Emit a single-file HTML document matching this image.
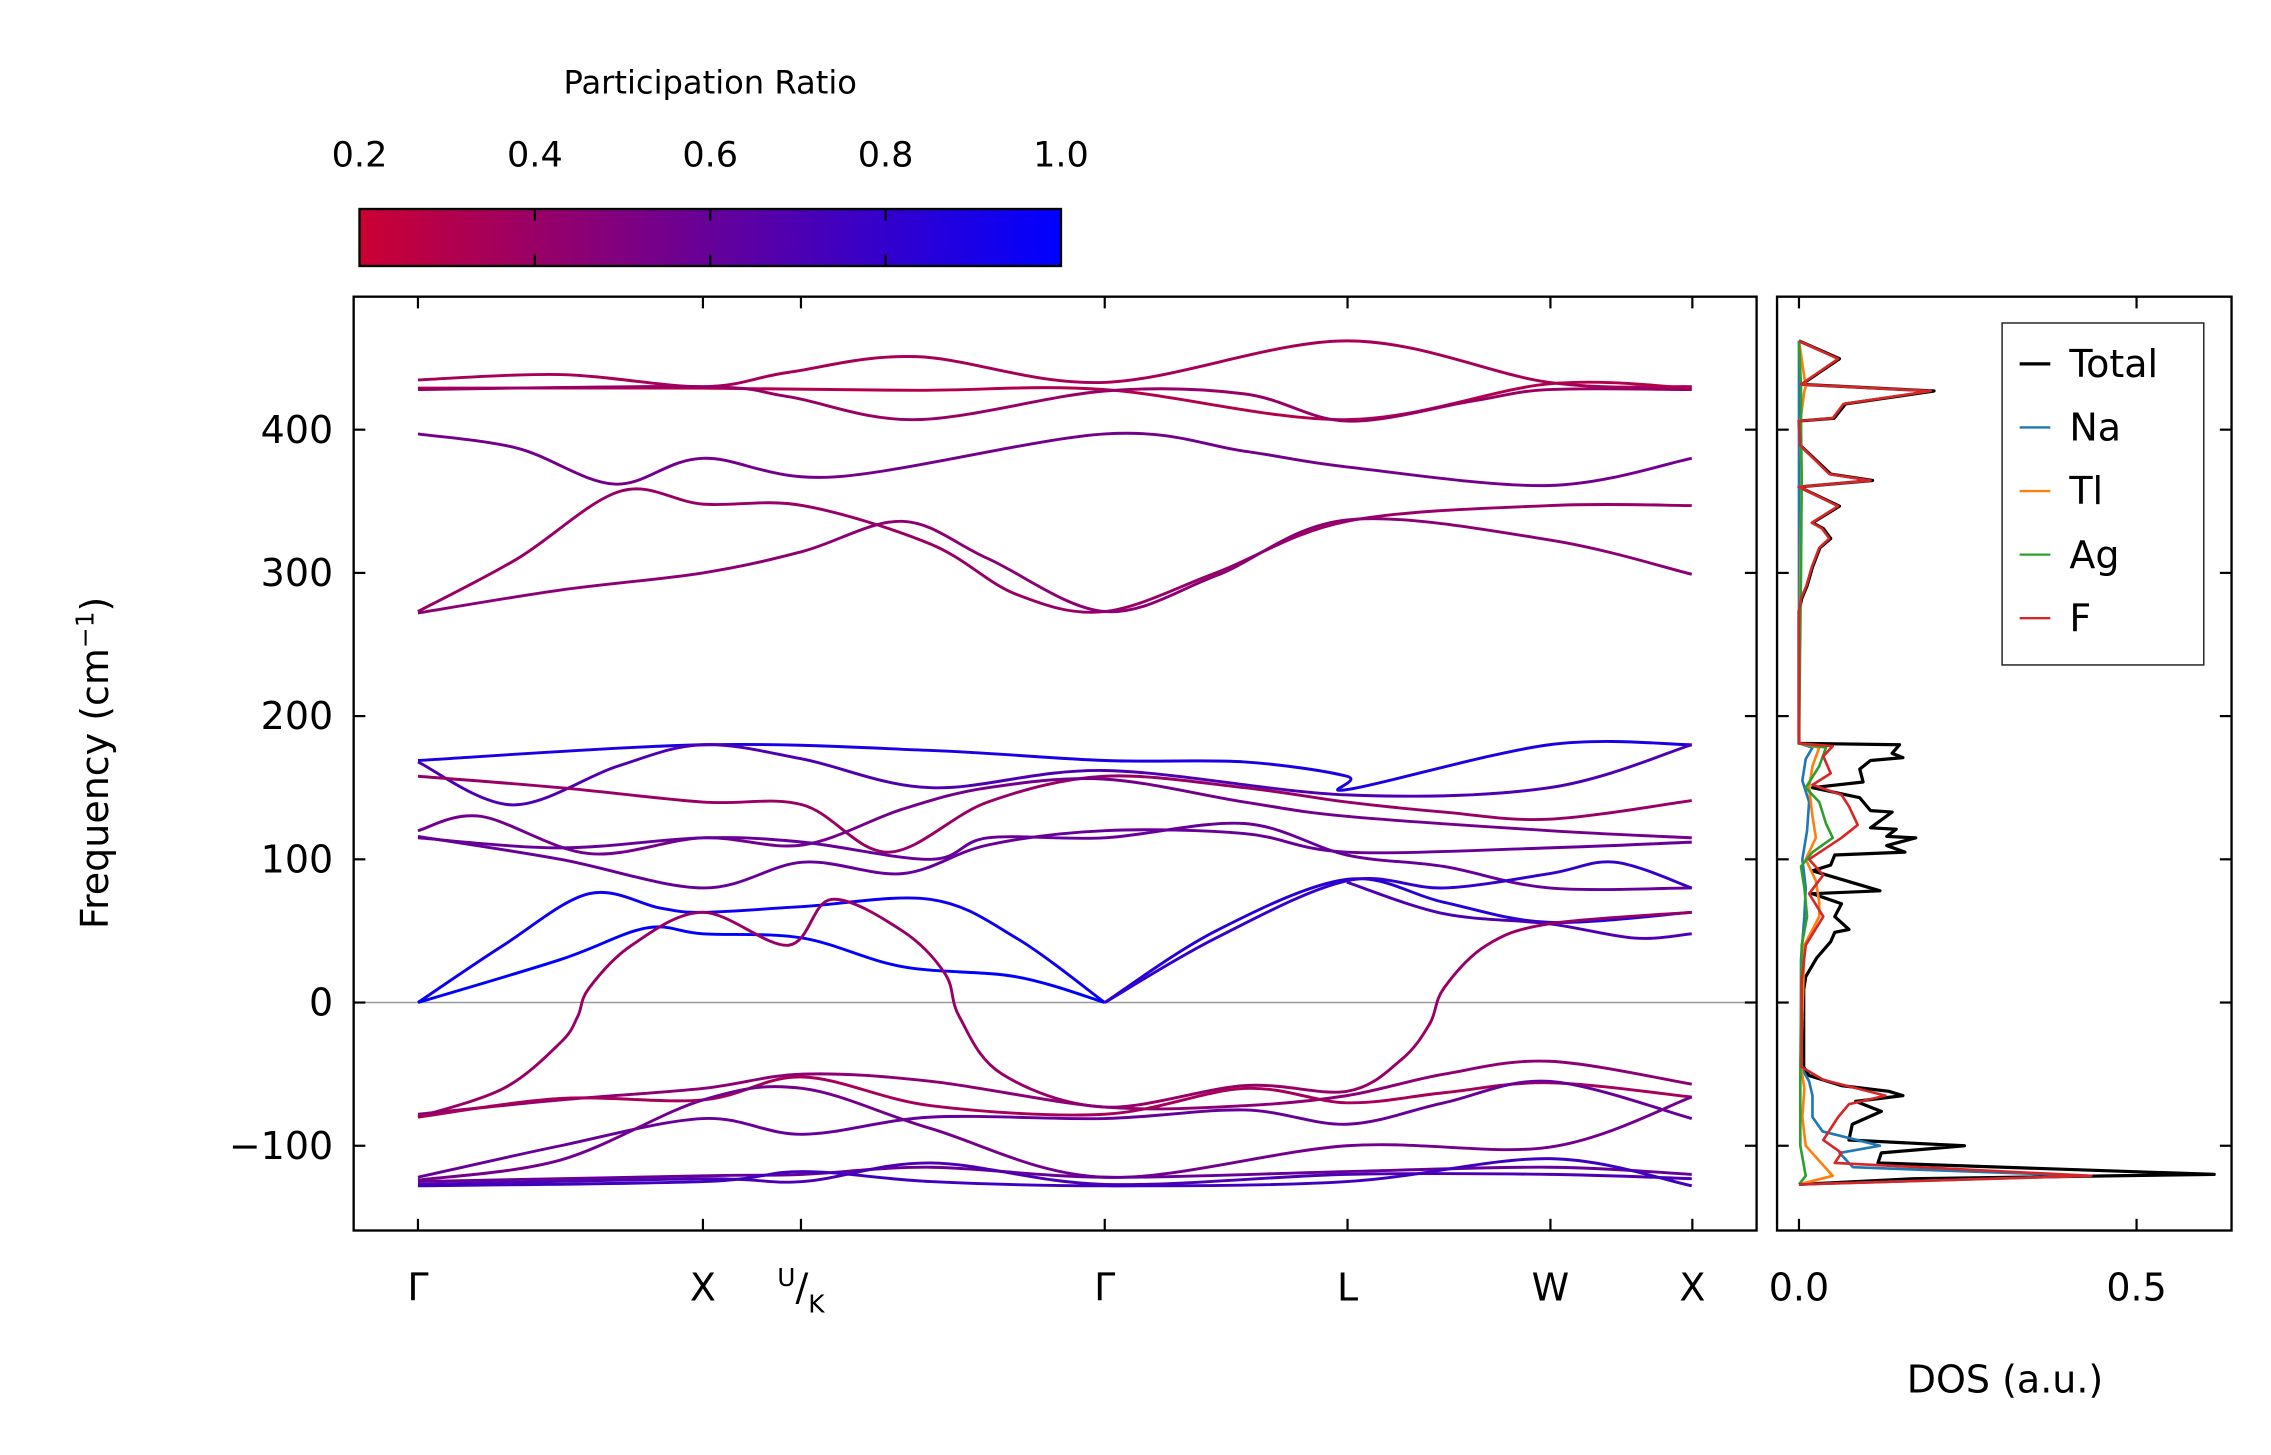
<!DOCTYPE html>
<html><head><meta charset="utf-8"><style>
html,body{margin:0;padding:0;background:#fff}
svg{display:block}
text{font-family:"DejaVu Sans","Liberation Sans",sans-serif;fill:#000}
</style></head><body>
<svg id="chart" width="2271" height="1455" viewBox="0 0 1554 995.6" xmlns="http://www.w3.org/2000/svg">
<g id="cbar"></g>
<g id="main"></g>
<g id="dos"></g>
</svg>
<script>
// ---------- data ----------
const kLabels = ["Γ","X","U/K","Γ","L","W","X"];
const kTicks = [0, 1.0, 1.344, 2.41, 3.262, 3.974, 4.472];
const yTicks = [-100, 0, 100, 200, 300, 400];
const cbTicks = [0.2, 0.4, 0.6, 0.8, 1.0];
const bandU1 = [[0,434.7],[0.5,438.5],[1,430],[1.3,440],[1.75,451],[2.41,433],[3.26,462],[3.97,433],[4.47,430]];
const bandU2 = [[0,429],[1,429],[1.75,427.5],[2.41,428],[3.26,407],[3.97,432],[4.47,429]];
const bandU3 = [[0,428],[1,430],[1.3,423],[1.75,407],[2.41,427],[2.9,425],[3.26,406],[3.7,420],[3.97,428],[4.47,428]];
const bandU4 = [[0,397],[0.35,387],[0.69,362],[1,380],[1.46,367],[2.41,397],[2.9,385],[3.26,374],[3.97,361],[4.47,380]];
const bandU5 = [[0,273],[0.35,310],[0.71,357],[1,348],[1.35,347],[1.8,320],[2.1,285],[2.41,273],[2.8,300],[3.26,336],[3.97,347],[4.47,347]];
const bandU6 = [[0,272],[0.5,288],[1,300],[1.35,315],[1.7,336],[2.0,310],[2.41,273],[2.8,298],[3.26,337],[3.97,323],[4.47,299]];
const bandM1 = [[0,169],[1,180],[1.8,176],[2.41,169],[2.9,168],[3.26,158],[3.27,149],[3.97,180],[4.47,180]];
const bandM2 = [[0,168],[0.33,138],[0.7,165],[1,180],[1.35,170],[1.8,150],[2.41,162],[3.26,145],[3.97,150],[4.47,180]];
const bandM3 = [[0,158],[0.5,150],[1,140],[1.35,138],[1.65,105],[2.0,140],[2.41,158],[2.9,150],[3.26,140],[3.6,133],[3.97,128],[4.47,141]];
const bandM4 = [[0,120],[0.22,130],[0.6,104],[1,115],[1.35,110],[1.7,135],[2.0,150],[2.41,156],[2.9,140],[3.26,130],[3.97,120],[4.47,115]];
const bandM5 = [[0,116],[0.5,100],[1,80],[1.35,98],[1.7,90],[2.0,110],[2.41,120],[2.9,118],[3.26,105],[3.97,108],[4.47,112]];
const bandM6 = [[0,115],[0.5,108],[1,115],[1.35,112],[1.8,100],[2.0,115],[2.41,115],[2.9,125],[3.26,103],[3.6,95],[3.97,80],[4.47,80]];
const bandA1 = [[0,0],[0.3,40],[0.6,76],[0.85,66],[1,63],[1.35,67],[1.8,72],[2.1,45],[2.41,0]];
const bandA2 = [[0,0],[0.5,30],[0.8,52],[1,48],[1.35,45],[1.7,25],[2.1,18],[2.41,0]];
const bandA3 = [[2.41,0],[2.8,50],[3.26,86],[3.6,70],[3.97,56],[4.47,63]];
const bandA4 = [[2.41,0],[2.8,45],[3.26,85],[3.6,80],[3.97,90],[4.2,98],[4.47,80]];
const bandA5 = [[3.26,84],[3.6,62],[3.97,55],[4.27,45],[4.47,48]];
const bandI1 = [[0,-80],[0.3,-60],[0.5,-28],[0.56,-10],[0.6,10],[0.75,40],[1,63],[1.3,40],[1.45,72],[1.7,50],[1.85,20],[1.9,-10],[2.05,-50],[2.41,-73],[2.9,-58],[3.26,-62],[3.45,-40],[3.55,-15],[3.6,10],[3.75,40],[3.97,55],[4.47,63]];
const bandL1 = [[0,-78],[0.5,-68],[1,-60],[1.35,-50],[1.8,-55],[2.41,-73],[2.9,-72],[3.26,-65],[3.6,-50],[3.97,-41],[4.47,-57]];
const bandL2 = [[0,-80],[0.5,-67],[1,-68],[1.35,-52],[1.8,-72],[2.41,-78],[2.9,-60],[3.26,-70],[3.6,-63],[3.97,-56],[4.47,-66]];
const bandL3 = [[0,-122],[0.5,-100],[1,-81],[1.35,-92],[1.8,-80],[2.41,-81],[2.9,-75],[3.26,-85],[3.6,-70],[3.97,-55],[4.47,-81]];
const bandL4 = [[0,-124],[0.5,-110],[1,-68],[1.35,-60],[1.8,-88],[2.41,-122],[3.26,-100],[3.97,-101],[4.47,-66]];
const bandL5 = [[0,-125],[1,-121],[1.35,-120],[1.8,-115],[2.41,-122],[3.26,-118],[3.97,-115],[4.47,-120]];
const bandL6 = [[0,-127],[1,-123],[1.35,-125],[1.8,-112],[2.41,-127],[3.26,-120],[3.97,-120],[4.47,-123]];
const bandL7 = [[0,-128],[1,-125],[1.35,-118],[1.8,-125],[2.41,-128],[3.26,-125],[3.97,-109],[4.47,-128]];
const bandList = [bandU1,bandU2,bandU3,bandU4,bandU5,bandU6,bandM1,bandM2,bandM3,bandM4,bandM5,bandM6,bandA1,bandA2,bandA3,bandA4,bandA5,bandI1,bandL1,bandL2,bandL3,bandL4,bandL5,bandL6,bandL7];
const bandRatio = [0.35,0.3,0.4,0.55,0.4,0.45,0.9,0.7,0.4,0.55,0.6,0.6,0.95,1.0,0.85,0.8,0.7,0.4,0.45,0.35,0.6,0.55,0.6,0.7,0.75];
const dosTotal = [[462,0],[449.5,0.06],[431.6,0.004],[427,0.2],[418,0.069],[408,0.052],[406,0],[389,0.002],[369,0.047],[364.5,0.109],[360,0],[346.6,0.06],[335,0.02],[331,0.036],[324,0.047],[317.5,0.031],[304,0.02],[291,0.012],[282,0.004],[273,0],[181,0],[180,0.149],[174,0.138],[171,0.154],[169,0.106],[163,0.09],[154,0.095],[150,0.02],[143,0.09],[134,0.106],[133,0.138],[122,0.106],[121,0.144],[116,0.13],[115,0.173],[109.6,0.13],[105,0.157],[103,0.053],[96,0.047],[92,0.02],[78,0.12],[76,0.02],[69,0.063],[60,0.053],[51,0.074],[49,0.053],[42.5,0.047],[31,0.026],[18,0.01],[9,0.007],[-45,0.007],[-51,0.015],[-58,0.063],[-62,0.133],[-65,0.154],[-69,0.084],[-76,0.122],[-85,0.079],[-96,0.074],[-100,0.245],[-105,0.122],[-112,0.117],[-120,0.615],[-123,0.17],[-127,0]];
const dosF = [[462,0],[449.5,0.058],[431.6,0.003],[427,0.195],[418,0.066],[408,0.05],[406,0],[389,0.002],[369,0.045],[364.5,0.106],[360,0],[346.6,0.058],[335,0.019],[331,0.034],[324,0.045],[317.5,0.03],[304,0.019],[291,0.011],[282,0.003],[273,0],[181,0],[179,0.05],[172,0.036],[160,0.047],[152,0.02],[145,0.063],[137,0.074],[124,0.087],[115,0.063],[100,0.015],[89,0.036],[76,0.015],[60,0.036],[40,0.01],[15,0.004],[-45,0.004],[-54,0.036],[-65,0.128],[-71,0.074],[-80,0.058],[-96,0.036],[-105,0.063],[-112,0.053],[-121,0.433],[-127,0]];
const dosNa = [[462,0],[300,0],[181,0],[178,0.02],[170,0.01],[155,0.005],[140,0.015],[120,0.012],[100,0.005],[80,0.01],[60,0.008],[30,0.003],[-45,0.003],[-55,0.015],[-65,0.02],[-80,0.02],[-90,0.035],[-100,0.12],[-105,0.06],[-115,0.08],[-121,0.43],[-127,0]];
const dosTl = [[462,0],[430,0.01],[427,0.008],[406,0.002],[365,0.004],[300,0.002],[181,0],[178,0.03],[165,0.02],[150,0.015],[130,0.02],[115,0.025],[100,0.01],[85,0.025],[70,0.03],[60,0.03],[40,0.008],[-45,0.003],[-60,0.008],[-80,0.005],[-100,0.01],[-121,0.05],[-127,0]];
const dosAg = [[462,0],[430,0.003],[406,0.003],[365,0.004],[300,0.003],[181,0],[178,0.04],[165,0.03],[150,0.01],[140,0.03],[125,0.04],[115,0.05],[105,0.02],[95,0.003],[80,0.008],[60,0.012],[40,0.004],[-45,0.002],[-100,0.002],[-121,0.01],[-127,0]];
const dosSeries = [dosTotal, dosNa, dosTl, dosAg, dosF];
const dosColors = ["#000000","#1f77b4","#ff7f0e","#2ca02c","#d62728"];
const dosNames = ["dos-total","dos-na","dos-tl","dos-ag","dos-f"];
const dosTicks = [0.0, 0.5];
const legendNames = ["Total","Na","Tl","Ag","F"];
const legendColors = ["#000000","#1f77b4","#ff7f0e","#2ca02c","#d62728"];

const NS = "http://www.w3.org/2000/svg";
const M = {l:242, r:1202, t:203, b:842};
const D = {l:1216, r:1527};
const kx = k => 286 + k * 195;
const fy = f => 686 - f * 0.98;
const dx = v => 1231 + v * 462;
const cbX = r => 246 + (r - 0.2) / 0.8 * 480;
function cmap(r){ const t=(r-0.2)/0.8; return `rgb(${Math.round(204*(1-t))},0,${Math.round(51+204*t)})`; }
function mk(tag, attrs, parent){ const e=document.createElementNS(NS,tag); for(const a in attrs) e.setAttribute(a,attrs[a]); parent.appendChild(e); return e; }
function smooth(pts){
  let d=`M${pts[0][0]},${pts[0][1]}`;
  for(let i=0;i<pts.length-1;i++){
    const p0=pts[Math.max(0,i-1)],p1=pts[i],p2=pts[i+1],p3=pts[Math.min(pts.length-1,i+2)];
    const c1=[p1[0]+(p2[0]-p0[0])/6,p1[1]+(p2[1]-p0[1])/6];
    const c2=[p2[0]-(p3[0]-p1[0])/6,p2[1]-(p3[1]-p1[1])/6];
    d+=` C${c1[0]},${c1[1]} ${c2[0]},${c2[1]} ${p2[0]},${p2[1]}`;
  }
  return d;
}

// colorbar
const cb = document.getElementById('cbar');
const defs = mk('defs',{},cb);
const grad = mk('linearGradient',{id:'cg',x1:'0',x2:'1',y1:'0',y2:'0'},defs);
for(let i=0;i<=10;i++){ mk('stop',{offset:i/10,'stop-color':cmap(0.2+0.08*i)},grad); }
const cbRect = mk('rect',{x:246,y:143,width:480,height:39,fill:'url(#cg)',stroke:'#000','stroke-width':1.6},cb);


cbTicks.forEach(t=>{
  const x=cbX(t);
  if(t>0.2 && t<1.0){ mk('line',{x1:x,x2:x,y1:143,y2:151,stroke:'#000','stroke-width':1.5},cb); mk('line',{x1:x,x2:x,y1:174,y2:182,stroke:'#000','stroke-width':1.5},cb); }
  const tx=mk('text',{x:x,y:114,'text-anchor':'middle','font-size':24},cb); tx.textContent=t.toFixed(1);
  
  
});
const cbt = mk('text',{x:486,y:64,'text-anchor':'middle','font-size':22},cb); cbt.textContent='Participation Ratio';



// main panel
const mg = document.getElementById('main');
mk('clipPath',{id:'mc'},mg).appendChild(document.createElementNS(NS,'rect'));
const cr = mg.querySelector('#mc rect'); cr.setAttribute('x',M.l); cr.setAttribute('y',M.t); cr.setAttribute('width',M.r-M.l); cr.setAttribute('height',M.b-M.t);
const zl = mk('line',{x1:M.l,x2:M.r,y1:fy(0),y2:fy(0),stroke:'#999','stroke-width':1},mg);


const bg = mk('g',{'clip-path':'url(#mc)'},mg);
bandList.forEach((b,i)=>{
  const p = mk('path',{d:smooth(b.map(q=>[kx(q[0]),fy(q[1])])),fill:'none',stroke:cmap(bandRatio[i]),'stroke-width':2},bg);
  
  
});
const mf = mk('rect',{x:M.l,y:M.t,width:M.r-M.l,height:M.b-M.t,fill:'none',stroke:'#000','stroke-width':1.6},mg);


yTicks.forEach(v=>{
  const y=fy(v);
  mk('line',{x1:M.l,x2:M.l+8,y1:y,y2:y,stroke:'#000','stroke-width':1.5},mg);
  mk('line',{x1:M.r-8,x2:M.r,y1:y,y2:y,stroke:'#000','stroke-width':1.5},mg);
  const t=mk('text',{x:M.l-14,y:y+9,'text-anchor':'end','font-size':26},mg); t.textContent=v<0?'−'+Math.abs(v):String(v);
  
  
});
kTicks.forEach((k,i)=>{
  const x=kx(k);
  mk('line',{x1:x,x2:x,y1:M.t,y2:M.t+8,stroke:'#000','stroke-width':1.5},mg);
  mk('line',{x1:x,x2:x,y1:M.b-8,y2:M.b,stroke:'#000','stroke-width':1.5},mg);
  let t;
  if(kLabels[i]==='U/K'){
    t=mk('text',{x:x,y:890,'text-anchor':'middle','font-size':26},mg);
    t.innerHTML='<tspan font-size="17" dy="-10">U</tspan><tspan dy="10">/</tspan><tspan font-size="17" dy="8">K</tspan>';
  } else {
    t=mk('text',{x:x,y:890,'text-anchor':'middle','font-size':26},mg); t.textContent=kLabels[i];
  }
  
  
});
const yl = mk('text',{x:0,y:0,transform:'translate(74,522) rotate(-90)','text-anchor':'middle','font-size':26},mg);
yl.innerHTML='Frequency (cm<tspan font-size="17" dy="-10">−1</tspan><tspan dy="10">)</tspan>';



// DOS panel
const dg = document.getElementById('dos');
dosSeries.forEach((s,i)=>{
  const pts = s.map(q=>`${dx(q[1])},${fy(q[0])}`).join(' ');
  const pl = mk('polyline',{points:pts,fill:'none',stroke:dosColors[i],'stroke-width':i===0?2.2:1.8,'stroke-linejoin':'round'},dg);
  
  
});
const df = mk('rect',{x:D.l,y:M.t,width:D.r-D.l,height:M.b-M.t,fill:'none',stroke:'#000','stroke-width':1.6},dg);


yTicks.forEach(v=>{
  const y=fy(v);
  mk('line',{x1:D.l,x2:D.l+8,y1:y,y2:y,stroke:'#000','stroke-width':1.5},dg);
  mk('line',{x1:D.r-8,x2:D.r,y1:y,y2:y,stroke:'#000','stroke-width':1.5},dg);
});
dosTicks.forEach(v=>{
  const x=dx(v);
  mk('line',{x1:x,x2:x,y1:M.t,y2:M.t+8,stroke:'#000','stroke-width':1.5},dg);
  mk('line',{x1:x,x2:x,y1:M.b-8,y2:M.b,stroke:'#000','stroke-width':1.5},dg);
  const t=mk('text',{x:x,y:890,'text-anchor':'middle','font-size':26},dg); t.textContent=v.toFixed(1);
  
  
});
const dl = mk('text',{x:1372,y:953,'text-anchor':'middle','font-size':26},dg); dl.textContent='DOS (a.u.)';


const lg = mk('g',{},dg);


mk('rect',{x:1370,y:221,width:138,height:234,fill:'#fff',stroke:'#222','stroke-width':1},lg);
legendNames.forEach((n,i)=>{
  const y=249+i*43.5;
  const ln=mk('line',{x1:1382,x2:1403,y1:y,y2:y,stroke:legendColors[i],'stroke-width':i===0?2.2:1.6},lg);
  
  
  const t=mk('text',{x:1416,y:y+9,'font-size':26},lg); t.textContent=n;
  
  
});
</script>
</body></html>
